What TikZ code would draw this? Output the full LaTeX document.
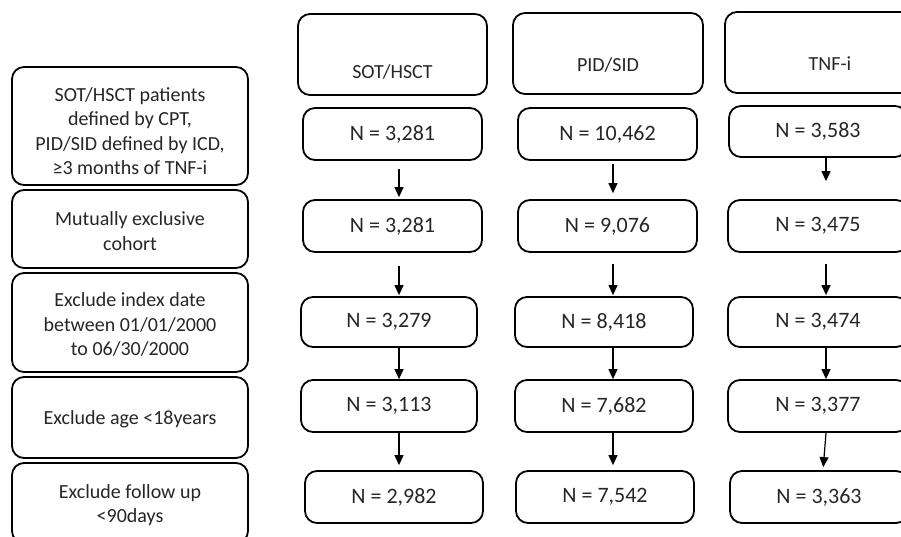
\documentclass[tikz,border=0pt]{standalone}
\usepackage{fontspec}
\setmainfont{Carlito}
\usetikzlibrary{arrows.meta,calc}
\newcommand\Nval[1]{N = #1}
\begin{document}
\begin{tikzpicture}[x=1pt,y=-1pt,
  box/.style={draw=black,line width=1.8pt,rounded corners=12pt,inner sep=0pt,align=center,
     text=black!85,font=\fontsize{20}{24.5}\selectfont},
  nbox/.style={box,font=\fontsize{22}{26}\selectfont},
  txt/.style={inner sep=0pt,align=center,text=black!85,font=\fontsize{20}{24.5}\selectfont},
  arr/.style={line width=1.2pt,-{Triangle[width=9pt,length=10pt]}}]
\useasboundingbox (0,0) rectangle (901,536);
\clip (0,0) rectangle (901,536);
% left column
\node[box,minimum width=236pt,minimum height=118pt] (l1) at (130,126) {};
\node[txt] (l1t) at (130,131) {SOT/HSCT patients\\defined by CPT,\\PID/SID defined by ICD,\\≥3 months of TNF-i};
\node[box,minimum width=236pt,minimum height=78pt] (l2) at (130,229) {};
\node[txt] (l2t) at (130,231) {Mutually exclusive\\cohort};
\node[box,minimum width=236pt,minimum height=99pt] (l3) at (130,322.5) {};
\node[txt] (l3t) at (130,324.5) {Exclude index date\\between 01/01/2000\\to 06/30/2000};
\node[box,minimum width=236pt,minimum height=81pt] (l4) at (130,417.5) {};
\node[txt] (l4t) at (130,419) {Exclude age <18years};
\node[box,minimum width=236pt,minimum height=80pt] (l5) at (130,503) {};
\node[txt] (l5t) at (130,505) {Exclude follow up\\<90days};
% headers
\node[box,minimum width=189pt,minimum height=81pt] (h1) at (392.5,54.5) {};
\node[txt] (h1t) at (392.5,72) {SOT/HSCT};
\node[box,minimum width=190pt,minimum height=81pt] (h2) at (608,53.5) {};
\node[txt] (h2t) at (608,64.5) {PID/SID};
\node[box,minimum width=200pt,minimum height=81pt] (h3) at (825,52.5) {};
\node[txt] (h3t) at (830,63.5) {TNF-i};
% SOT column
\node[nbox,minimum width=179pt,minimum height=52pt] (a1) at (392.5,134) {\Nval{3,281}};
\node[nbox,minimum width=179pt,minimum height=52pt] (a2) at (392.5,226) {\Nval{3,281}};
\node[nbox,minimum width=176pt,minimum height=50pt] (a3) at (389,322) {\Nval{3,279}};
\node[nbox,minimum width=176pt,minimum height=52pt] (a4) at (389,406) {\Nval{3,113}};
\node[nbox,minimum width=178pt,minimum height=52pt] (a5) at (394,497) {\Nval{2,982}};
% PID column
\node[nbox,minimum width=179pt,minimum height=52pt] (b1) at (607.5,134) {\Nval{10,462}};
\node[nbox,minimum width=179pt,minimum height=52pt] (b2) at (607.5,226) {\Nval{9,076}};
\node[nbox,minimum width=178pt,minimum height=50pt] (b3) at (604,322) {\Nval{8,418}};
\node[nbox,minimum width=178pt,minimum height=52pt] (b4) at (604,406) {\Nval{7,682}};
\node[nbox,minimum width=178pt,minimum height=52pt] (b5) at (605,497) {\Nval{7,542}};
% TNF column
\node[nbox,minimum width=178pt,minimum height=51pt] (c1) at (818,131.5) {\Nval{3,583}};
\node[nbox,minimum width=180pt,minimum height=52pt] (c2) at (818,226) {\Nval{3,475}};
\node[nbox,minimum width=180pt,minimum height=50pt] (c3) at (818,322) {\Nval{3,474}};
\node[nbox,minimum width=180pt,minimum height=52pt] (c4) at (818,406) {\Nval{3,377}};
\node[nbox,minimum width=178pt,minimum height=52pt] (c5) at (819,497) {\Nval{3,363}};
% arrows SOT
\draw[arr,shorten <=8pt,shorten >=2pt] ([xshift=6.5pt]a1.south) -- ([xshift=6.5pt]a2.north);
\draw[arr,shorten <=13pt,shorten >=1pt] ([xshift=6.5pt]a2.south) -- ([xshift=10pt]a3.north);
\draw[arr] ([xshift=10pt]a3.south) -- ([xshift=10pt]a4.north);
\draw[arr,shorten >=5pt] ([xshift=10pt]a4.south) -- ([xshift=5pt]a5.north);
% arrows PID
\draw[arr,shorten <=3pt,shorten >=6pt] ([xshift=5.5pt]b1.south) -- ([xshift=5.5pt]b2.north);
\draw[arr,shorten <=11pt,shorten >=1pt] ([xshift=5.5pt]b2.south) -- ([xshift=9pt]b3.north);
\draw[arr] ([xshift=9pt]b3.south) -- ([xshift=9pt]b4.north);
\draw[arr,shorten >=5pt] ([xshift=9pt]b4.south) -- ([xshift=8pt]b5.north);
% arrows TNF
\draw[arr,shorten >=18pt] ([xshift=8pt]c1.south) -- ([xshift=8pt]c2.north);
\draw[arr,shorten <=11pt,shorten >=1pt] ([xshift=8pt]c2.south) -- ([xshift=8pt]c3.north);
\draw[arr] ([xshift=8pt]c3.south) -- ([xshift=8pt]c4.north);
\draw[arr,shorten >=3pt] ([xshift=8pt]c4.south) -- ([xshift=4pt]c5.north);
\end{tikzpicture}
\end{document}
